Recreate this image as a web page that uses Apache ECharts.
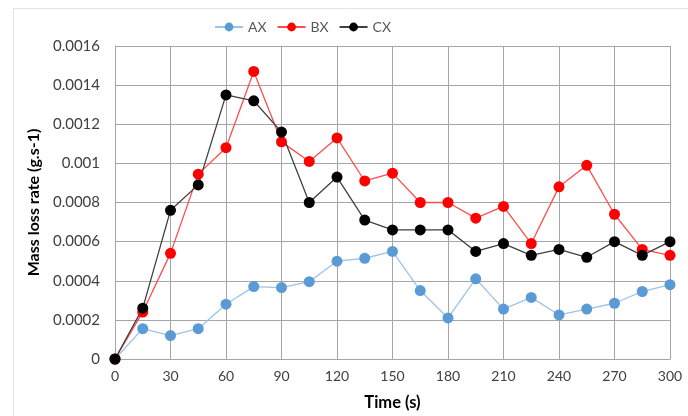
<!DOCTYPE html>
<html><head><meta charset="utf-8">
<script src="https://cdn.jsdelivr.net/npm/echarts@6/dist/echarts.min.js"></script>
<style>html,body{margin:0;padding:0;background:#fff}#c{width:688px;height:416px}</style>
</head><body><div id="c"></div>
<script>
const times = [0,15,30,45,60,75,90,105,120,135,150,165,180,195,210,225,240,255,270,285,300];
const AX = [0,0.000155,0.00012,0.000155,0.00028,0.00037,0.000365,0.000395,0.0005,0.000515,0.00055,0.00035,0.00021,0.00041,0.000255,0.000315,0.000225,0.000255,0.000285,0.000345,0.00038];
const BX = [0,0.00024,0.00054,0.000945,0.00108,0.00147,0.00111,0.00101,0.00113,0.00091,0.00095,0.0008,0.0008,0.00072,0.00078,0.00059,0.00088,0.00099,0.00074,0.00056,0.00053];
const CX = [0,0.00026,0.00076,0.00089,0.00135,0.00132,0.00116,0.0008,0.00093,0.00071,0.00066,0.00066,0.00066,0.00055,0.00059,0.00053,0.00056,0.00052,0.0006,0.00053,0.0006];
const seriesNames = ['AX','BX','CX'];
const font = 'Lato';
const chart = echarts.init(document.getElementById('c'), null, {renderer:'canvas'});
function pairs(v){ return times.map((t,i)=>[t,v[i]]); }
function mk(name, data, color, lineColor){
  return {name, type:'line', data:pairs(data), symbol:'circle', symbolSize:11,
    itemStyle:{color}, lineStyle:{color:lineColor, width:1.3}, emphasis:{disabled:true}, animation:false};
}
chart.setOption({
  animation:false,
  graphic:[{type:'rect', shape:{x:13.5,y:8.5,width:700,height:420}, style:{fill:'none', stroke:'#dfe4ea', lineWidth:1}, silent:true, z:-1}],
  legend:{top:15, left:209, itemWidth:28, itemHeight:11, itemGap:10,
    textStyle:{fontFamily:font, fontSize:14, color:'#595959'}, data:seriesNames},
  grid:{left:115, top:46, right:18, bottom:54, containLabel:false},
  xAxis:{type:'value', min:0, max:300, interval:30,
    name:'Time (s)', nameLocation:'middle', nameGap:35,
    nameTextStyle:{fontFamily:font, fontSize:16.5, fontWeight:'bold', color:'#000'},
    axisLine:{lineStyle:{color:'#a6a6a6'}}, axisTick:{show:false},
    axisLabel:{fontFamily:font, fontSize:14, color:'#404040', margin:10},
    splitLine:{show:true, lineStyle:{color:'#a6a6a6', width:1}}},
  yAxis:{type:'value', min:0, max:0.0016, interval:0.0002,
    name:'Mass loss rate (g.s-1)', nameLocation:'middle', nameGap:72,
    nameTextStyle:{fontFamily:font, fontSize:16, fontWeight:'bold', color:'#000'},
    axisLine:{show:true, lineStyle:{color:'#a6a6a6'}}, axisTick:{show:false},
    axisLabel:{fontFamily:font, fontSize:15, color:'#404040', margin:15, formatter:v=>String(+v.toFixed(4))},
    splitLine:{show:true, lineStyle:{color:'#a6a6a6', width:1}}},
  series:[
    mk('AX', AX, '#5b9bd5', '#9dc3e6'),
    mk('BX', BX, '#ff0000', '#ff4d4d'),
    mk('CX', CX, '#000000', '#404040')
  ]
});
</script></body></html>
